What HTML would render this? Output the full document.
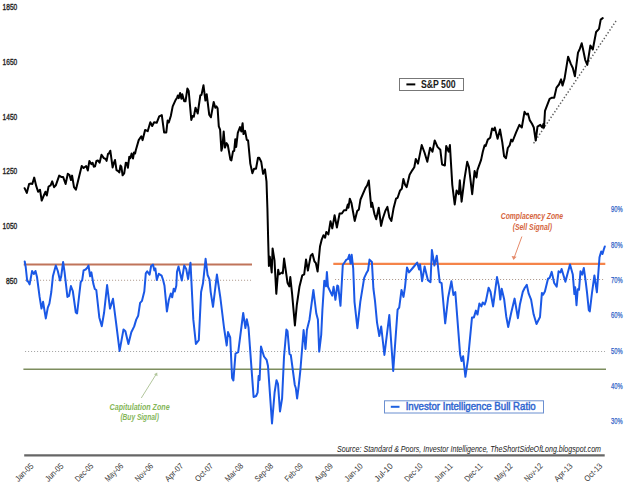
<!DOCTYPE html>
<html><head><meta charset="utf-8"><style>
html,body{margin:0;padding:0;background:#fff;width:624px;height:485px;overflow:hidden;}
svg{display:block;}
</style></head><body>
<svg width="624" height="485" viewBox="0 0 624 485"><line x1="23.7" y1="264.5" x2="252" y2="264.5" stroke="#c0745a" stroke-width="2"/>
<line x1="333.3" y1="263.8" x2="605.3" y2="263.8" stroke="#f5844a" stroke-width="2.2"/>
<line x1="25" y1="280.2" x2="251" y2="280.2" stroke="#b09c90" stroke-width="1.1" stroke-dasharray="1.1 1.9"/>
<line x1="335" y1="279.5" x2="605" y2="279.5" stroke="#b09c90" stroke-width="1.1" stroke-dasharray="1.1 1.9"/>
<line x1="25" y1="351.5" x2="605" y2="351.5" stroke="#a8a8a8" stroke-width="1.1" stroke-dasharray="1.1 1.9"/>
<line x1="23.4" y1="369.3" x2="606" y2="369.3" stroke="#7d8d5e" stroke-width="1.4"/>
<line x1="24.2" y1="455.3" x2="604.7" y2="455.3" stroke="#666" stroke-width="2.2"/>
<line x1="533.6" y1="143.3" x2="616" y2="21" stroke="#606060" stroke-width="1.5" stroke-dasharray="1.4 2.0"/>
<path d="M24.7,261.5 L25.7,267.0 L27.2,281.0 L28.5,282.0 L29.6,284.4 L32.1,271.0 L33.9,274.0 L35.5,271.0 L37.0,277.0 L39.6,296.9 L41.5,308.6 L43.1,301.8 L44.5,310.6 L45.8,318.4 L47.8,307.6 L49.4,303.7 L51.3,292.0 L52.9,276.3 L55.8,265.5 L57.8,271.0 L60.0,280.5 L61.2,276.4 L63.1,262.0 L64.6,272.4 L67.4,296.9 L69.0,296.0 L70.9,286.1 L72.8,291.0 L75.8,312.5 L77.1,313.5 L80.7,282.2 L82.2,280.2 L83.6,270.4 L85.6,269.5 L87.5,267.5 L88.5,265.5 L90.1,276.3 L91.4,272.4 L93.4,284.1 L94.8,289.0 L96.3,290.0 L99.3,317.4 L101.8,326.2 L104.1,312.5 L107.1,285.1 L110.0,308.6 L113.0,298.8 L115.9,321.3 L119.6,350.9 L123.5,329.4 L125.4,331.3 L128.4,344.0 L131.3,332.3 L134.2,326.4 L136.2,319.6 L138.2,315.7 L140.1,302.9 L142.0,300.8 L144.3,291.5 L145.8,273.3 L147.2,271.3 L149.6,274.7 L151.1,266.0 L153.0,264.6 L154.4,270.4 L155.4,268.5 L156.8,280.0 L158.8,273.8 L161.6,275.7 L163.1,280.0 L164.5,285.8 L166.9,311.5 L168.8,300.0 L170.8,293.5 L172.2,297.3 L173.7,288.7 L174.8,291.5 L176.3,285.8 L177.0,271.8 L178.5,266.5 L181.8,280.5 L184.2,265.6 L186.2,268.9 L188.1,279.0 L190.5,262.7 L193.3,319.4 L195.9,344.0 L198.8,340.1 L201.1,292.0 L203.0,283.3 L205.6,258.8 L207.6,275.0 L209.5,279.3 L210.7,292.1 L213.0,306.8 L216.9,274.5 L220.4,298.0 L224.0,327.5 L226.7,345.5 L228.0,332.1 L230.2,337.5 L232.1,378.0 L233.4,380.4 L235.5,353.6 L238.2,352.2 L243.2,313.0 L245.4,328.0 L246.8,319.3 L248.5,327.4 L253.6,397.0 L256.1,396.0 L257.6,392.7 L258.6,376.0 L259.6,380.0 L261.0,346.5 L264.0,356.5 L266.6,359.8 L268.0,366.0 L272.0,423.5 L274.6,392.5 L276.5,380.2 L278.0,384.0 L280.0,411.5 L282.1,398.3 L284.0,357.0 L286.4,329.5 L287.5,331.0 L289.5,354.0 L290.8,355.0 L294.8,385.0 L295.8,388.0 L297.1,398.5 L298.7,386.0 L300.4,370.0 L303.6,330.0 L305.5,349.0 L306.9,330.0 L309.5,319.4 L313.4,290.0 L316.3,313.5 L317.9,319.4 L319.2,351.6 L321.2,335.0 L322.4,310.0 L324.3,280.8 L325.2,281.5 L326.0,286.3 L326.9,272.0 L328.0,286.8 L332.2,295.6 L333.6,286.8 L335.4,299.8 L337.3,285.4 L338.2,286.3 L340.5,305.8 L342.8,265.0 L344.5,262.5 L346.4,259.6 L347.9,259.1 L349.3,254.8 L350.6,263.5 L351.7,254.8 L353.2,268.3 L354.5,301.8 L357.4,328.2 L360.3,301.8 L364.2,277.9 L366.2,273.6 L368.1,270.2 L369.5,259.6 L371.9,262.0 L373.4,288.5 L375.0,300.8 L377.0,322.3 L379.3,336.0 L381.2,326.5 L384.4,355.0 L389.3,315.0 L393.2,371.0 L397.6,309.6 L399.2,307.6 L401.5,290.0 L403.5,296.9 L405.0,287.1 L407.0,267.5 L409.0,272.4 L412.3,268.5 L414.8,265.5 L417.2,262.6 L419.1,269.5 L420.1,264.6 L422.1,281.2 L424.6,266.5 L427.9,280.2 L430.5,282.2 L431.9,249.9 L434.4,265.5 L436.8,255.8 L439.7,282.2 L441.6,283.2 L445.2,323.3 L448.1,297.8 L451.4,281.2 L453.4,294.9 L455.3,292.0 L460.1,354.2 L461.5,361.1 L463.1,356.2 L465.4,376.8 L468.0,359.1 L472.0,317.4 L473.9,317.4 L475.9,310.6 L477.5,314.5 L479.4,303.5 L481.4,306.4 L482.7,302.5 L484.7,304.5 L486.0,300.6 L488.6,287.8 L490.5,291.8 L493.1,306.4 L497.0,277.1 L499.0,286.9 L500.3,299.6 L501.7,288.8 L504.2,299.6 L506.2,316.2 L508.2,327.0 L511.1,313.3 L514.6,298.6 L517.9,318.2 L519.9,304.5 L522.8,291.8 L524.8,287.8 L526.8,284.9 L528.7,293.7 L531.1,299.6 L533.6,314.3 L536.5,324.0 L540.0,317.0 L541.9,292.9 L543.1,294.7 L544.9,291.6 L548.0,278.7 L549.6,278.0 L551.7,271.9 L554.2,283.0 L556.7,286.7 L558.6,271.2 L560.4,272.5 L561.6,269.0 L565.4,281.7 L567.5,273.7 L570.0,264.5 L572.8,274.6 L574.4,294.1 L575.2,287.3 L576.5,305.2 L577.7,289.2 L579.0,289.8 L580.5,271.3 L582.2,274.6 L583.8,268.0 L585.8,282.4 L587.0,292.3 L588.8,310.2 L589.8,311.4 L591.9,293.5 L594.4,275.5 L596.9,292.3 L599.5,257.2 L601.2,251.5 L602.5,254.0 L603.7,249.8 L604.8,246.5" fill="none" stroke="#1a58e6" stroke-width="2.0" stroke-linejoin="round" stroke-linecap="round"/>
<path d="M24.6,188.2 L26.8,192.9 L29.1,184.0 L31.0,183.6 L32.3,184.0 L34.2,177.6 L36.2,185.9 L38.1,191.7 L40.0,189.7 L41.7,200.6 L43.8,195.5 L45.5,191.7 L46.8,195.5 L48.6,186.5 L50.6,185.3 L52.2,181.4 L54.1,187.2 L55.8,185.3 L59.2,175.6 L61.2,176.9 L63.1,176.9 L65.6,184.0 L67.8,173.7 L69.5,175.0 L71.0,180.1 L72.1,175.6 L74.0,187.2 L75.9,189.7 L81.7,166.0 L83.6,168.0 L86.2,166.0 L87.8,170.5 L89.4,160.9 L91.3,164.1 L92.6,162.8 L93.8,166.7 L95.0,166.4 L96.4,160.9 L97.8,160.4 L99.6,162.7 L101.5,154.8 L103.8,158.1 L105.7,159.0 L106.6,160.9 L108.0,153.9 L108.9,153.5 L110.3,150.7 L112.6,167.4 L113.6,163.7 L115.0,160.0 L116.5,170.1 L118.2,171.1 L119.3,172.5 L120.5,165.5 L121.4,166.9 L122.6,175.3 L124.2,173.4 L125.8,162.7 L127.0,163.2 L127.9,167.8 L129.3,156.7 L130.4,158.1 L131.6,153.5 L133.0,158.6 L134.0,152.5 L135.1,153.5 L135.8,150.2 L138.7,140.1 L141.3,136.3 L142.6,140.1 L145.1,129.9 L147.7,131.2 L150.3,122.2 L152.2,126.0 L154.1,122.2 L156.7,122.8 L159.2,116.4 L161.8,115.1 L164.1,132.4 L166.3,132.4 L167.6,120.5 L168.8,122.4 L170.8,116.0 L172.7,106.4 L175.3,100.6 L177.2,97.4 L177.8,95.5 L178.8,98.1 L180.1,93.0 L181.4,98.7 L182.3,94.2 L184.2,101.3 L185.5,101.3 L187.4,88.5 L188.7,91.0 L191.3,119.9 L192.6,116.0 L193.8,116.7 L195.5,107.7 L197.7,113.5 L200.3,95.5 L201.5,94.9 L203.5,85.3 L205.4,100.6 L206.7,94.2 L209.2,114.7 L210.9,117.3 L213.7,101.9 L215.3,107.7 L216.5,106.4 L217.6,108.3 L218.8,126.4 L220.1,129.6 L221.4,150.8 L222.4,146.9 L223.7,131.5 L225.0,147.6 L226.5,143.1 L227.8,145.0 L230.4,159.7 L231.4,160.4 L233.0,151.4 L234.2,150.8 L235.3,139.2 L236.2,146.9 L237.8,132.8 L240.0,127.1 L241.3,131.5 L242.6,123.2 L243.5,134.1 L245.1,130.9 L246.8,139.9 L248.1,140.5 L250.3,163.6 L252.4,173.2 L254.1,168.7 L256.0,168.7 L258.0,157.8 L259.2,157.8 L261.2,161.7 L263.1,173.8 L265.0,169.4 L266.5,181.6 L267.4,208.0 L268.2,241.0 L268.9,266.0 L269.8,256.7 L270.8,264.1 L271.7,272.5 L272.6,248.4 L274.5,260.4 L276.3,293.8 L278.2,269.7 L279.1,274.3 L281.9,272.5 L282.8,273.4 L284.1,258.6 L287.5,282.7 L289.3,286.4 L290.3,277.1 L292.1,293.8 L294.9,325.4 L296.8,305.0 L299.5,286.4 L302.3,275.3 L304.2,274.3 L306.0,259.5 L307.9,270.6 L310.7,255.8 L312.5,253.9 L314.4,261.3 L315.9,263.2 L317.6,271.6 L320.0,246.5 L321.8,239.3 L323.5,235.2 L325.1,237.7 L326.3,231.9 L328.4,234.4 L330.5,221.2 L332.3,228.4 L334.6,215.2 L336.9,227.5 L339.6,213.5 L341.9,213.5 L344.0,210.2 L346.2,210.2 L347.8,204.4 L348.5,207.7 L349.8,198.7 L351.4,202.8 L354.7,220.9 L357.2,211.0 L358.9,209.4 L360.5,199.5 L365.5,187.9 L367.1,185.5 L368.8,180.5 L371.2,206.9 L372.1,202.8 L374.5,214.3 L376.2,219.3 L378.7,207.7 L381.1,225.9 L382.8,218.5 L385.3,211.0 L387.4,206.9 L389.4,217.6 L391.4,220.9 L393.5,208.6 L396.0,198.7 L397.6,197.8 L400.1,190.4 L401.8,188.8 L403.4,178.9 L405.0,184.6 L406.7,187.1 L409.6,174.8 L412.4,170.1 L414.3,167.3 L415.8,159.0 L418.0,163.6 L421.7,145.1 L424.5,152.5 L427.3,161.8 L430.1,147.8 L432.5,151.6 L434.7,140.4 L437.5,146.9 L440.3,149.7 L442.1,164.5 L444.9,165.5 L446.2,146.0 L448.6,151.6 L449.9,145.1 L452.3,185.0 L454.7,204.5 L456.6,190.5 L458.8,194.2 L459.8,180.3 L461.6,201.7 L464.4,179.4 L467.2,161.8 L469.0,167.3 L472.2,194.2 L474.6,171.0 L476.5,177.5 L477.4,170.1 L481.1,159.9 L482.8,151.7 L484.6,145.2 L485.6,146.1 L487.8,139.6 L490.2,137.7 L492.1,128.5 L493.9,130.3 L494.8,127.5 L497.6,138.7 L500.0,129.4 L502.3,142.4 L504.1,156.3 L506.0,158.2 L507.8,148.0 L509.7,145.2 L511.2,139.6 L512.5,141.5 L516.2,132.2 L519.4,124.8 L521.8,127.5 L524.5,111.8 L526.4,114.5 L527.9,113.6 L529.7,120.1 L532.0,123.8 L533.8,127.5 L535.7,140.5 L537.5,126.6 L540.3,124.8 L542.2,127.5 L543.5,123.8 L544.0,127.5 L545.0,110.8 L549.6,98.8 L551.5,97.8 L554.2,97.8 L556.5,87.6 L559.0,84.5 L561.1,79.4 L562.5,85.6 L564.6,78.4 L568.1,56.7 L570.8,63.9 L572.8,68.0 L574.9,76.3 L578.0,52.6 L579.6,49.5 L581.7,43.3 L583.1,49.5 L585.2,59.8 L587.3,64.9 L590.4,45.4 L592.8,49.5 L596.1,32.0 L599.0,28.9 L600.7,19.6 L602.7,18.1" fill="none" stroke="#000" stroke-width="2.0" stroke-linejoin="round" stroke-linecap="round"/>
<text x="17.2" y="9.899999999999999" font-family="Liberation Sans, sans-serif" font-size="8.5" fill="#222" text-anchor="end" textLength="14.6" lengthAdjust="spacingAndGlyphs" stroke="#222" stroke-width="0.35">1850</text>
<text x="17.2" y="65.05" font-family="Liberation Sans, sans-serif" font-size="8.5" fill="#222" text-anchor="end" textLength="14.6" lengthAdjust="spacingAndGlyphs" stroke="#222" stroke-width="0.35">1650</text>
<text x="17.2" y="119.64999999999999" font-family="Liberation Sans, sans-serif" font-size="8.5" fill="#222" text-anchor="end" textLength="14.6" lengthAdjust="spacingAndGlyphs" stroke="#222" stroke-width="0.35">1450</text>
<text x="17.2" y="174.25" font-family="Liberation Sans, sans-serif" font-size="8.5" fill="#222" text-anchor="end" textLength="14.6" lengthAdjust="spacingAndGlyphs" stroke="#222" stroke-width="0.35">1250</text>
<text x="17.2" y="229.15" font-family="Liberation Sans, sans-serif" font-size="8.5" fill="#222" text-anchor="end" textLength="14.6" lengthAdjust="spacingAndGlyphs" stroke="#222" stroke-width="0.35">1050</text>
<text x="17.2" y="284.05" font-family="Liberation Sans, sans-serif" font-size="8.5" fill="#222" text-anchor="end" textLength="11.2" lengthAdjust="spacingAndGlyphs" stroke="#222" stroke-width="0.35">850</text>
<text x="611" y="212.4" font-family="Liberation Sans, sans-serif" font-size="8.6" fill="#2f62c8" text-anchor="start" textLength="11.6" lengthAdjust="spacingAndGlyphs" stroke="#2f62c8" stroke-width="0.25">90%</text>
<text x="611" y="247.5" font-family="Liberation Sans, sans-serif" font-size="8.6" fill="#2f62c8" text-anchor="start" textLength="11.6" lengthAdjust="spacingAndGlyphs" stroke="#2f62c8" stroke-width="0.25">80%</text>
<text x="611" y="282.70000000000005" font-family="Liberation Sans, sans-serif" font-size="8.6" fill="#2f62c8" text-anchor="start" textLength="11.6" lengthAdjust="spacingAndGlyphs" stroke="#2f62c8" stroke-width="0.25">70%</text>
<text x="611" y="317.6" font-family="Liberation Sans, sans-serif" font-size="8.6" fill="#2f62c8" text-anchor="start" textLength="11.6" lengthAdjust="spacingAndGlyphs" stroke="#2f62c8" stroke-width="0.25">60%</text>
<text x="611" y="354.1" font-family="Liberation Sans, sans-serif" font-size="8.6" fill="#2f62c8" text-anchor="start" textLength="11.6" lengthAdjust="spacingAndGlyphs" stroke="#2f62c8" stroke-width="0.25">50%</text>
<text x="611" y="389.1" font-family="Liberation Sans, sans-serif" font-size="8.6" fill="#2f62c8" text-anchor="start" textLength="11.6" lengthAdjust="spacingAndGlyphs" stroke="#2f62c8" stroke-width="0.25">40%</text>
<text x="611" y="424.1" font-family="Liberation Sans, sans-serif" font-size="8.6" fill="#2f62c8" text-anchor="start" textLength="11.6" lengthAdjust="spacingAndGlyphs" stroke="#2f62c8" stroke-width="0.25">30%</text>
<g transform="translate(32.0,464.6) rotate(-45)"><text x="0" y="2.8" font-family="Liberation Sans, sans-serif" font-size="8.4" fill="#333" text-anchor="end" textLength="22" lengthAdjust="spacingAndGlyphs">Jan-05</text></g>
<g transform="translate(62.0,464.6) rotate(-45)"><text x="0" y="2.8" font-family="Liberation Sans, sans-serif" font-size="8.4" fill="#333" text-anchor="end" textLength="22" lengthAdjust="spacingAndGlyphs">Jun-05</text></g>
<g transform="translate(91.9,464.6) rotate(-45)"><text x="0" y="2.8" font-family="Liberation Sans, sans-serif" font-size="8.4" fill="#333" text-anchor="end" textLength="22" lengthAdjust="spacingAndGlyphs">Dec-05</text></g>
<g transform="translate(121.8,464.6) rotate(-45)"><text x="0" y="2.8" font-family="Liberation Sans, sans-serif" font-size="8.4" fill="#333" text-anchor="end" textLength="22" lengthAdjust="spacingAndGlyphs">May-06</text></g>
<g transform="translate(151.8,464.6) rotate(-45)"><text x="0" y="2.8" font-family="Liberation Sans, sans-serif" font-size="8.4" fill="#333" text-anchor="end" textLength="22" lengthAdjust="spacingAndGlyphs">Nov-06</text></g>
<g transform="translate(181.8,464.6) rotate(-45)"><text x="0" y="2.8" font-family="Liberation Sans, sans-serif" font-size="8.4" fill="#333" text-anchor="end" textLength="22" lengthAdjust="spacingAndGlyphs">Apr-07</text></g>
<g transform="translate(211.7,464.6) rotate(-45)"><text x="0" y="2.8" font-family="Liberation Sans, sans-serif" font-size="8.4" fill="#333" text-anchor="end" textLength="22" lengthAdjust="spacingAndGlyphs">Oct-07</text></g>
<g transform="translate(241.7,464.6) rotate(-45)"><text x="0" y="2.8" font-family="Liberation Sans, sans-serif" font-size="8.4" fill="#333" text-anchor="end" textLength="22" lengthAdjust="spacingAndGlyphs">Mar-08</text></g>
<g transform="translate(271.6,464.6) rotate(-45)"><text x="0" y="2.8" font-family="Liberation Sans, sans-serif" font-size="8.4" fill="#333" text-anchor="end" textLength="22" lengthAdjust="spacingAndGlyphs">Sep-08</text></g>
<g transform="translate(301.6,464.6) rotate(-45)"><text x="0" y="2.8" font-family="Liberation Sans, sans-serif" font-size="8.4" fill="#333" text-anchor="end" textLength="22" lengthAdjust="spacingAndGlyphs">Feb-09</text></g>
<g transform="translate(331.5,464.6) rotate(-45)"><text x="0" y="2.8" font-family="Liberation Sans, sans-serif" font-size="8.4" fill="#333" text-anchor="end" textLength="22" lengthAdjust="spacingAndGlyphs">Aug-09</text></g>
<g transform="translate(361.4,464.6) rotate(-45)"><text x="0" y="2.8" font-family="Liberation Sans, sans-serif" font-size="8.4" fill="#333" text-anchor="end" textLength="22" lengthAdjust="spacingAndGlyphs">Jan-10</text></g>
<g transform="translate(391.4,464.6) rotate(-45)"><text x="0" y="2.8" font-family="Liberation Sans, sans-serif" font-size="8.4" fill="#333" text-anchor="end" textLength="22" lengthAdjust="spacingAndGlyphs">Jul-10</text></g>
<g transform="translate(421.3,464.6) rotate(-45)"><text x="0" y="2.8" font-family="Liberation Sans, sans-serif" font-size="8.4" fill="#333" text-anchor="end" textLength="22" lengthAdjust="spacingAndGlyphs">Dec-10</text></g>
<g transform="translate(451.3,464.6) rotate(-45)"><text x="0" y="2.8" font-family="Liberation Sans, sans-serif" font-size="8.4" fill="#333" text-anchor="end" textLength="22" lengthAdjust="spacingAndGlyphs">Jun-11</text></g>
<g transform="translate(481.2,464.6) rotate(-45)"><text x="0" y="2.8" font-family="Liberation Sans, sans-serif" font-size="8.4" fill="#333" text-anchor="end" textLength="22" lengthAdjust="spacingAndGlyphs">Dec-11</text></g>
<g transform="translate(511.2,464.6) rotate(-45)"><text x="0" y="2.8" font-family="Liberation Sans, sans-serif" font-size="8.4" fill="#333" text-anchor="end" textLength="22" lengthAdjust="spacingAndGlyphs">May-12</text></g>
<g transform="translate(541.1,464.6) rotate(-45)"><text x="0" y="2.8" font-family="Liberation Sans, sans-serif" font-size="8.4" fill="#333" text-anchor="end" textLength="22" lengthAdjust="spacingAndGlyphs">Nov-12</text></g>
<g transform="translate(571.1,464.6) rotate(-45)"><text x="0" y="2.8" font-family="Liberation Sans, sans-serif" font-size="8.4" fill="#333" text-anchor="end" textLength="22" lengthAdjust="spacingAndGlyphs">Apr-13</text></g>
<g transform="translate(601.0,464.6) rotate(-45)"><text x="0" y="2.8" font-family="Liberation Sans, sans-serif" font-size="8.4" fill="#333" text-anchor="end" textLength="22" lengthAdjust="spacingAndGlyphs">Oct-13</text></g>
<text x="337" y="452.2" font-family="Liberation Sans, sans-serif" font-size="9.9" fill="#222" text-anchor="start" textLength="264" lengthAdjust="spacingAndGlyphs" font-style="italic">Source: Standard &amp; Poors, Investor Intelligence, TheShortSideOfLong.blogspot.com</text>
<rect x="399.5" y="78.5" width="64" height="12" fill="#fff" stroke="#777" stroke-width="1"/>
<line x1="406.4" y1="84.4" x2="415.3" y2="84.4" stroke="#000" stroke-width="2"/>
<text x="421" y="88.2" font-family="Liberation Sans, sans-serif" font-size="10.4" fill="#1a1a1a" text-anchor="start" textLength="34.6" lengthAdjust="spacingAndGlyphs" font-weight="bold">S&amp;P 500</text>
<rect x="384.5" y="400.8" width="159" height="12.2" fill="#fff" stroke="#6b8fd0" stroke-width="1"/>
<line x1="390.8" y1="406.8" x2="399.5" y2="406.8" stroke="#1f62e0" stroke-width="2"/>
<text x="405.7" y="410.3" font-family="Liberation Sans, sans-serif" font-size="10.2" fill="#2f66d0" text-anchor="start" textLength="130" lengthAdjust="spacingAndGlyphs" stroke="#2f66d0" stroke-width="0.45">Investor Intelligence Bull Ratio</text>
<text x="500.8" y="219.2" font-family="Liberation Sans, sans-serif" font-size="8.6" fill="#d5643c" text-anchor="start" textLength="62.2" lengthAdjust="spacingAndGlyphs" font-style="italic" font-weight="bold">Complacency Zone</text>
<text x="512.7" y="229.8" font-family="Liberation Sans, sans-serif" font-size="8.6" fill="#d5643c" text-anchor="start" textLength="39.3" lengthAdjust="spacingAndGlyphs" font-style="italic" font-weight="bold">(Sell Signal)</text>
<line x1="521.9" y1="236.5" x2="514.2" y2="257.5" stroke="#e58a6a" stroke-width="1"/>
<path d="M511.6,256 L513.5,260 L516.6,256.8 Z" fill="#e58a6a"/>
<text x="109.6" y="410.2" font-family="Liberation Sans, sans-serif" font-size="8.6" fill="#84b658" text-anchor="start" textLength="60" lengthAdjust="spacingAndGlyphs" font-style="italic" font-weight="bold">Capitulation Zone</text>
<text x="120.4" y="420.2" font-family="Liberation Sans, sans-serif" font-size="8.6" fill="#84b658" text-anchor="start" textLength="38.5" lengthAdjust="spacingAndGlyphs" font-style="italic" font-weight="bold">(Buy Signal)</text>
<line x1="141.3" y1="398" x2="156" y2="374.5" stroke="#b2c69c" stroke-width="1"/>
<path d="M154,374.2 L157.2,372.5 L157.5,376.2 Z" fill="#b2c69c"/></svg>
</body></html>
